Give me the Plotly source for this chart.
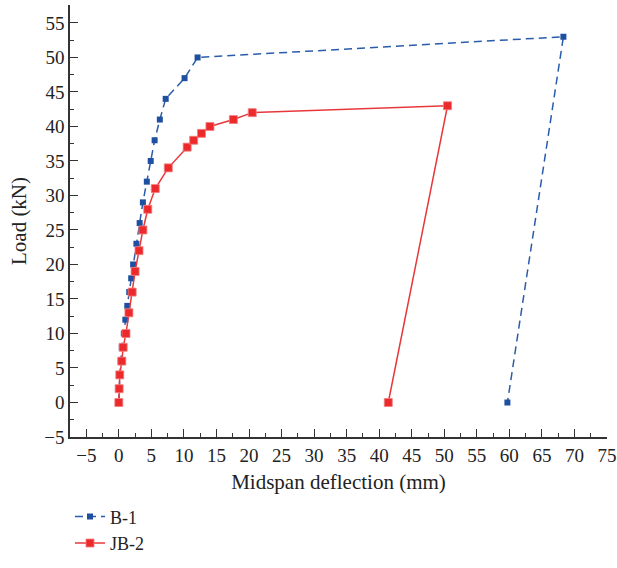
import plotly.graph_objects as go

b1_x = [0.0, 0.05, 0.15, 0.3, 0.46, 0.77, 1.0, 1.3, 1.6, 1.9, 2.2, 2.7, 3.2, 3.7, 4.3, 4.9, 5.5, 6.3, 7.2, 10.1, 12.1, 68.3, 59.7]
b1_y = [0, 2, 4, 6, 8, 10, 12, 14, 16, 18, 20, 23, 26, 29, 32, 35, 38, 41, 44, 47, 50, 53, 0]

jb2_x = [0.0, 0.05, 0.15, 0.46, 0.67, 1.1, 1.55, 2.05, 2.5, 3.1, 3.7, 4.45, 5.6, 7.6, 10.5, 11.5, 12.7, 14.0, 17.6, 20.5, 50.5, 41.4]
jb2_y = [0, 2, 4, 6, 8, 10, 13, 16, 19, 22, 25, 28, 31, 34, 37, 38, 39, 40, 41, 42, 43, 0]

font_family = "Liberation Serif"

fig = go.Figure()
fig.add_trace(go.Scatter(
    x=b1_x, y=b1_y, name="B-1", mode="lines+markers",
    line=dict(color="#2a5cab", width=1.5, dash="8px,5px"),
    marker=dict(symbol="square", size=6, color="#1f4fa0"),
))
fig.add_trace(go.Scatter(
    x=jb2_x, y=jb2_y, name="JB-2", mode="lines+markers",
    line=dict(color="#e8373a", width=1.5),
    marker=dict(symbol="square", size=8, color="#ec2a2c",
                line=dict(color="#f47f80", width=0.8)),
))

axis_common = dict(
    showline=True, linecolor="#333333", linewidth=1.5,
    ticks="inside", ticklen=8, tickwidth=1.2, tickcolor="#333333",
    showgrid=False, zeroline=False, dtick=5, automargin=False,
    tickfont=dict(family=font_family, size=19, color="#222222"),
    minor=dict(ticks="inside", ticklen=4, tickwidth=1, tickcolor="#333333", dtick=2.5, showgrid=False),
)

fig.update_layout(
    width=617, height=568,
    margin=dict(l=70, r=10, t=5, b=131),
    plot_bgcolor="white", paper_bgcolor="white",
    font=dict(family=font_family, size=19, color="#222222"),
    xaxis=dict(range=[-7.5, 75], tick0=0,
               title=dict(text="Midspan deflection (mm)", font=dict(family=font_family, size=21), standoff=10),
               **axis_common),
    yaxis=dict(range=[-5, 57.6], tick0=0,
               title=dict(text="Load (kN)", font=dict(family=font_family, size=21), standoff=12),
               **axis_common),
    showlegend=True,
    legend=dict(x=0.0, y=-0.288, xanchor="left", yanchor="bottom", orientation="v",
                font=dict(family=font_family, size=18), bgcolor="rgba(0,0,0,0)", tracegroupgap=0),
)

fig.write_html("out.html")
